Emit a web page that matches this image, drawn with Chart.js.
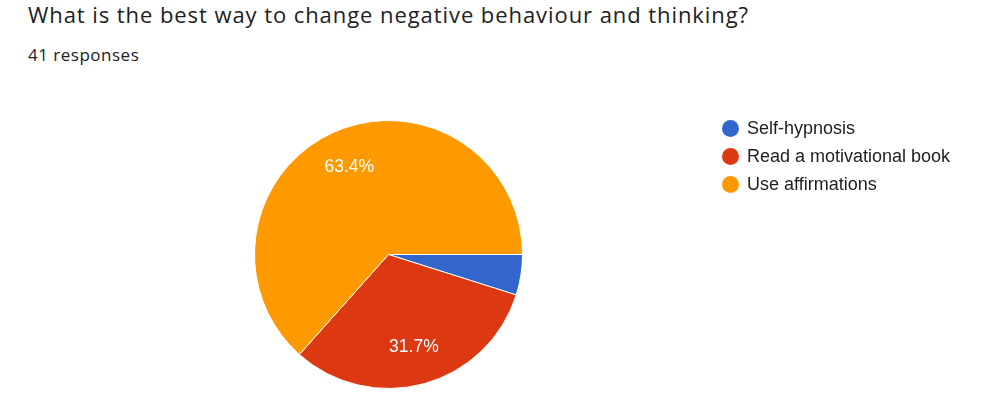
<!DOCTYPE html>
<html>
<head>
<meta charset="utf-8">
<script src="https://cdn.jsdelivr.net/npm/chart.js@4.4.0/dist/chart.umd.min.js"></script>
<style>
  html, body { margin: 0; padding: 0; background: #fff; }
  body { width: 1004px; height: 397px; position: relative; overflow: hidden; }
  #title { position: absolute; left: 28px; top: -1px; font: 22px "Open Sans", sans-serif; letter-spacing: 0.93px; color: #202124; white-space: nowrap; }
  #subtitle { position: absolute; left: 28px; top: 43px; font: 17px "Open Sans", sans-serif; letter-spacing: 0.5px; color: #202124; white-space: nowrap; }
  #wrap { position: absolute; left: 0; top: 0; width: 1004px; height: 397px; }
  #legend { position: absolute; left: 722px; top: 116px; font: 18px "Liberation Sans", Arial, sans-serif; color: #222; }
  #legend div { height: 28px; line-height: 24px; white-space: nowrap; }
  #legend span { display: inline-block; width: 17px; height: 17px; border-radius: 50%; vertical-align: -3px; margin-right: 8px; }
</style>
</head>
<body>
<div id="title">What is the best way to change negative behaviour and thinking?</div>
<div id="subtitle">41 responses</div>
<div id="wrap"><canvas id="pieChart"></canvas></div>
<div id="legend"></div>
<script>
const categories = ['Self-hypnosis', 'Read a motivational book', 'Use affirmations'];
const counts = [2, 13, 26];
const colors = ['#3366cc', '#dc3912', '#ff9900'];

const total = counts.reduce((a, b) => a + b, 0);

// slice labels like the forms chart (skip the tiny slice)
const sliceLabels = {
  id: 'sliceLabels',
  afterDatasetsDraw(chart) {
    const ctx = chart.ctx;
    const meta = chart.getDatasetMeta(0);
    ctx.save();
    ctx.fillStyle = '#fff';
    ctx.font = '17.5px "Liberation Sans", Arial, sans-serif';
    ctx.textAlign = 'center';
    ctx.textBaseline = 'middle';
    meta.data.forEach((arc, i) => {
      const pct = counts[i] / total * 100;
      if (pct < 10) return;
      const p = arc.getProps(['x', 'y', 'startAngle', 'endAngle', 'outerRadius'], true);
      const mid = (p.startAngle + p.endAngle) / 2;
      const r = p.outerRadius * 0.715;
      ctx.fillText(pct.toFixed(1) + '%', p.x + Math.cos(mid) * r, p.y + Math.sin(mid) * r);
    });
    ctx.restore();
  }
};

const legend = document.getElementById('legend');
categories.forEach((c, i) => {
  const row = document.createElement('div');
  row.innerHTML = '<span style="background:' + colors[i] + '"></span>' + c;
  legend.appendChild(row);
});

new Chart(document.getElementById('pieChart'), {
  type: 'pie',
  data: {
    labels: categories,
    datasets: [{
      data: counts,
      backgroundColor: colors,
      borderColor: '#fff',
      borderWidth: 1
    }]
  },
  options: {
    responsive: true,
    maintainAspectRatio: false,
    animation: false,
    rotation: 90,
    layout: { padding: { left: 254, right: 481, top: 120, bottom: 8 } },
    plugins: {
      legend: { display: false },
      tooltip: { enabled: false }
    }
  },
  plugins: [sliceLabels]
});
</script>
</body>
</html>
